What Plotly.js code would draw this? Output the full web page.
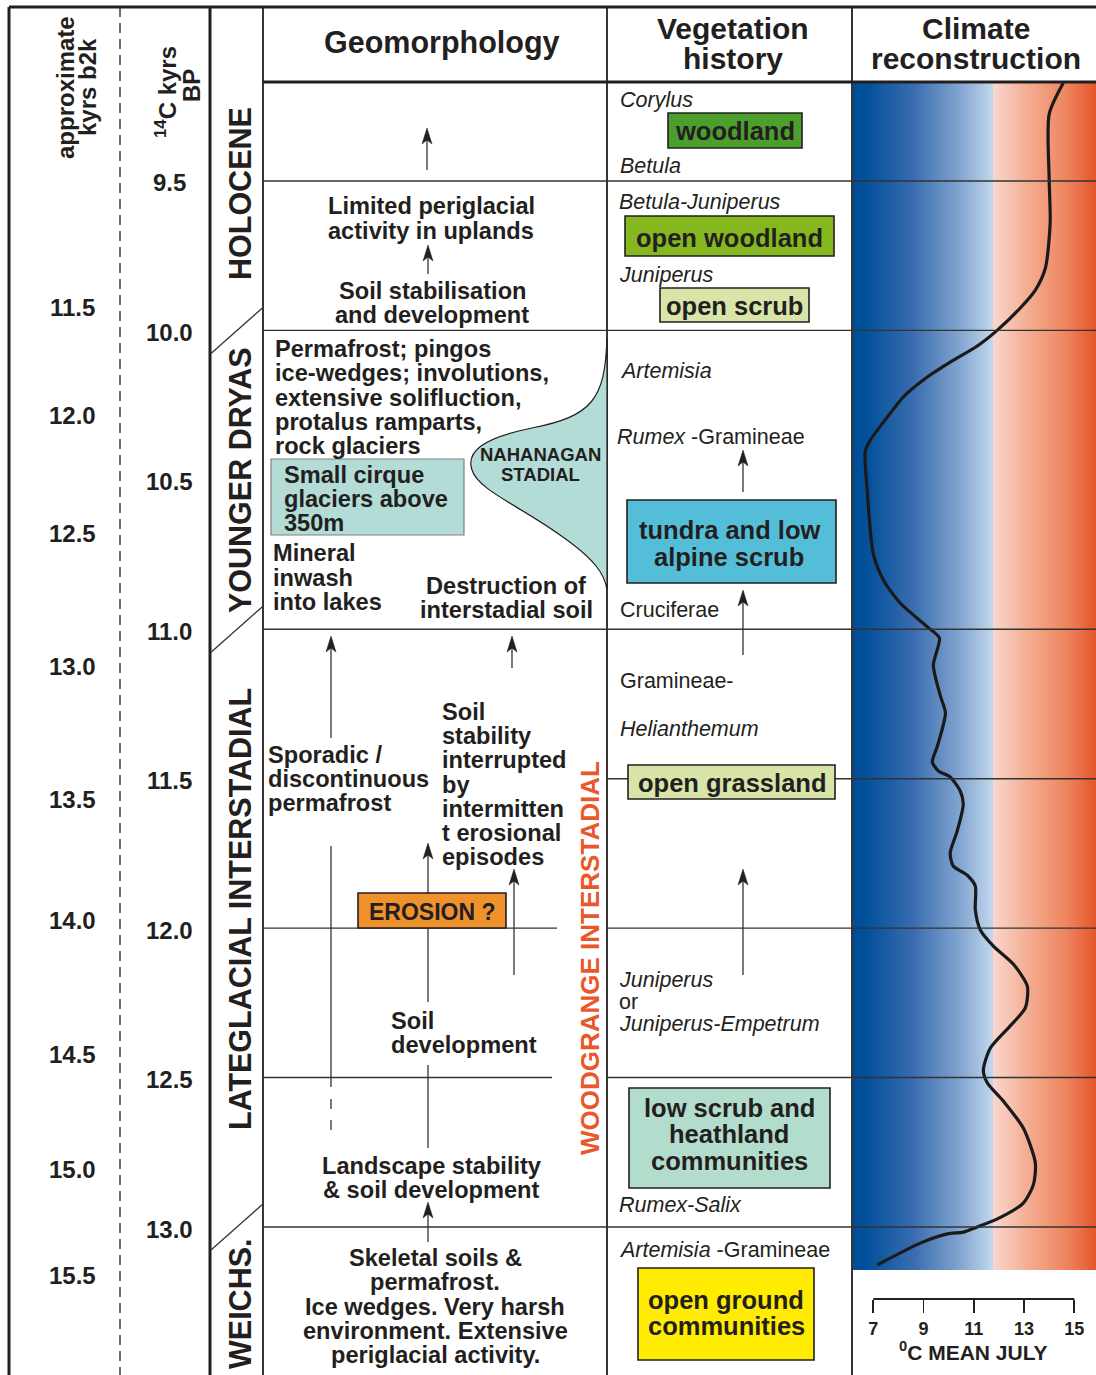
<!DOCTYPE html>
<html>
<head>
<meta charset="utf-8">
<script src="https://cdn.plot.ly/plotly-3.0.1.min.js"></script>
<style>
  html, body { margin: 0; padding: 0; background: #ffffff; }
  #chart { width: 1096px; height: 1375px; }
</style>
</head>
<body>
<div id="chart"></div>
<script>
// ---- Age scales -------------------------------------------------------
// Radiocarbon ages (14C kyrs BP) drawn down the second column
const c14Ticks  = [9.5, 10.0, 10.5, 11.0, 11.5, 12.0, 12.5, 13.0];
const c14Labels = ['9.5', '10.0', '10.5', '11.0', '11.5', '12.0', '12.5', '13.0'];

// Approximate calendar ages (kyrs b2k) and the 14C age each one falls at
const b2kLabels = ['11.5', '12.0', '12.5', '13.0', '13.5', '14.0', '14.5', '15.0', '15.5'];
const b2kAt14C  = [9.922, 10.283, 10.678, 11.126, 11.571, 11.976, 12.424, 12.806, 13.161];

// Zone boundaries (14C kyrs BP)
const zoneBounds = [9.5, 10.0, 11.0, 11.5, 12.0, 12.5, 13.0];
// Chronostratigraphic stage limits, where the diagonal breaks are drawn
const stageBreaks = [10.0, 11.0, 13.0];

// ---- Climate reconstruction: mean July temperature (deg C) ------------
const tempTicks = [7, 9, 11, 13, 15];
const curveAge = [9.172, 9.276, 9.493, 9.641, 9.791, 9.865, 9.925, 9.999, 10.052, 10.106,
                  10.156, 10.223, 10.290, 10.367, 10.404, 10.537, 10.748, 10.835, 10.912, 10.992,
                  11.029, 11.120, 11.223, 11.280, 11.391, 11.444, 11.474, 11.494, 11.541, 11.585,
                  11.675, 11.749, 11.792, 11.823, 11.859, 11.939, 12.006, 12.060, 12.120, 12.194,
                  12.267, 12.327, 12.401, 12.475, 12.518, 12.578, 12.669, 12.786, 12.859, 12.920,
                  12.973, 13.000, 13.017, 13.023, 13.054, 13.127];
const curveTemp = [14.56, 14.00, 14.00, 14.04, 13.85, 13.45, 12.85, 11.94, 11.14, 10.06,
                   9.15, 8.19, 7.56, 6.88, 6.68, 6.76, 7.00, 7.40, 8.07, 9.15,
                   9.63, 9.39, 9.67, 9.87, 9.55, 9.35, 9.59, 10.06, 10.46, 10.58,
                   10.34, 10.06, 10.18, 10.74, 11.06, 11.06, 11.26, 11.78, 12.57, 13.13,
                   13.05, 12.45, 11.66, 11.38, 11.54, 12.17, 12.97, 13.45, 13.37, 12.97,
                   11.94, 11.14, 10.58, 9.95, 8.87, 7.16];

// ---- Page geometry ----------------------------------------------------
const W = 1096, H = 1375;
const AGE_TOP = 8.8944, AGE_BOTTOM = 13.4952;          // 14C age at top / bottom edge
const T_LEFT = 6.192, T_RIGHT = 15.864;                // temperature at climate panel edges
const CLIM_X0 = 853;
const FONT = 'Liberation Sans, Arial, Helvetica, sans-serif';
const INK = '#231f20';
const HEAD = 30;     // column headings and stage names
const BODY = 23.6;   // geomorphology text
const BOX = 25.5;    // vegetation box labels
const VS = 21.5;     // pollen taxa

const agePx = a => (a - AGE_TOP) / (AGE_BOTTOM - AGE_TOP) * H;

const shapes = [];
const ann = [];

function line(x0, y0, x1, y1, w, color, dash, yref) {
  shapes.push({ type: 'line', xref: 'x', yref: yref || 'y', x0, y0, x1, y1,
    line: { color: color || INK, width: w || 1.5, dash: dash || 'solid' } });
}
function rect(x0, y0, x1, y1, fill, lc, lw) {
  shapes.push({ type: 'rect', xref: 'x', yref: 'y', x0, y0, x1, y1, fillcolor: fill,
    line: { color: lc || INK, width: lw || 1.6 } });
}
function text(t, x, y, o) {
  o = o || {};
  ann.push({ xref: 'x', yref: o.yref || 'y', x, y, text: t, showarrow: false,
    xanchor: o.anchor || 'center', yanchor: 'middle', textangle: o.angle || 0,
    yshift: o.yshift || 0, borderpad: 0,
    font: { family: FONT, size: o.size || BODY, color: o.color || INK } });
}
function arrow(x, yTail, yTip) {
  line(x, yTail, x, yTip + 10, 1.3, '#333');
  shapes.push({ type: 'path', xref: 'x', yref: 'y',
    path: `M${x},${yTip} L${x + 5},${yTip + 16} L${x},${yTip + 12} L${x - 5},${yTip + 16} Z`,
    fillcolor: INK, line: { color: INK, width: 0.5 } });
}

// ---- Frame and column rules ------------------------------------------
line(9, 7, W, 7, 3);
line(9, 7, 9, H, 3);
line(120, 7, 120, H, 1.4, '#333', '10px,6px');
line(210, 7, 210, H, 3);
line(263, 7, 263, H, 1.8);
line(607, 7, 607, H, 1.8);
line(852, 7, 852, H, 1.8);
line(263, 82, W, 82, 3);

// zone boundaries across geomorphology / vegetation / climate columns
const spans = {
  9.5: [[263, W]], 10.0: [[263, W]], 11.0: [[263, W]], 11.5: [[607, W]],
  12.0: [[263, 557], [607, W]], 12.5: [[263, 552], [607, W]], 13.0: [[263, W]]
};
zoneBounds.forEach(a => {
  spans[a].forEach(s => line(s[0], a, s[1], a, 1.4, '#333', 'solid', 'y2'));
});
// diagonal breaks between stages
stageBreaks.forEach(a => line(211, agePx(a) + 23, 263, agePx(a) - 23, 1.3, '#333'));

// ---- Column headings ---------------------------------------------------
text('<b>approximate</b>', 65, 88, { angle: -90, size: 24 });
text('<b>kyrs b2k</b>', 87, 87, { angle: -90, size: 24 });
text('<b><sup>14</sup>C kyrs</b>', 166, 92, { angle: -90, size: 24 });
text('<b>BP</b>', 191, 86, { angle: -90, size: 24 });
text('<b>Geomorphology</b>', 442, 42, { size: 30.5 });
text('<b>Vegetation</b>', 733, 28, { size: HEAD });
text('<b>history</b>', 733, 58, { size: HEAD });
text('<b>Climate</b>', 976, 28, { size: HEAD });
text('<b>reconstruction</b>', 976, 58, { size: HEAD });

// ---- Age labels -------------------------------------------------------
c14Ticks.forEach((a, i) => text('<b>' + c14Labels[i] + '</b>', 169, a, { yref: 'y2', yshift: -2, size: 24 }));
b2kAt14C.forEach((a, i) => text('<b>' + b2kLabels[i] + '</b>', 72, a, { yref: 'y2', size: 24 }));

// ---- Stages -----------------------------------------------------------
text('<b>HOLOCENE</b>', 240, 194, { angle: -90, size: 30.5 });
text('<b>YOUNGER DRYAS</b>', 240, 480, { angle: -90, size: 30.5 });
text('<b>LATEGLACIAL INTERSTADIAL</b>', 240, 909, { angle: -90, size: 30.5 });
text('<b>WEICHS.</b>', 240, 1304, { angle: -90, size: 30.5 });

// ---- Geomorphology ----------------------------------------------------
arrow(427, 170, 128);
text('<b>Limited periglacial</b>', 431, 206);
text('<b>activity in uplands</b>', 431, 231);
arrow(428, 274, 245);
text('<b>Soil stabilisation</b>', 432, 291);
text('<b>and development</b>', 432, 315);

['Permafrost; pingos', 'ice-wedges; involutions,', 'extensive solifluction,',
 'protalus ramparts,', 'rock glaciers'].forEach((t, i) =>
  text('<b>' + t + '</b>', 274, 349 + i * 24.3, { anchor: 'left' }));

rect(271, 459, 464, 535, '#b2dcd5', '#808080', 1.2);
['Small cirque', 'glaciers above', '350m'].forEach((t, i) =>
  text('<b>' + t + '</b>', 283, 475 + i * 24, { anchor: 'left' }));

// Nahanagan Stadial lobe
shapes.push({ type: 'path', xref: 'x', yref: 'y',
  path: 'M607,338 C605,400 592,416 532,428 C482,438 466,452 472,470 C478,490 520,506 560,535 C596,560 605,575 607,590 Z',
  fillcolor: '#b2dcd5', line: { color: INK, width: 1.2 } });
text('<b>NAHANAGAN</b>', 540, 454, { size: 18.5 });
text('<b>STADIAL</b>', 540, 474, { size: 18.5 });

['Mineral', 'inwash', 'into lakes'].forEach((t, i) =>
  text('<b>' + t + '</b>', 272, 553 + i * 24.5, { anchor: 'left' }));
text('<b>Destruction of</b>', 506, 586);
text('<b>interstadial soil</b>', 506, 610);

arrow(331, 738, 636);
arrow(512, 668, 636);
['Sporadic /', 'discontinuous', 'permafrost'].forEach((t, i) =>
  text('<b>' + t + '</b>', 267, 755 + i * 24, { anchor: 'left' }));
line(331, 846, 331, 1087, 1.3, '#333');
line(331, 1099, 331, 1109, 1.3, '#333');
line(331, 1120, 331, 1130, 1.3, '#333');

['Soil', 'stability', 'interrupted', 'by', 'intermitten', 't erosional', 'episodes'].forEach((t, i) =>
  text('<b>' + t + '</b>', 441, 712 + i * 24.2, { anchor: 'left' }));

arrow(428, 893, 843);
arrow(514, 975, 869);
rect(358, 893, 506, 928, '#f0922c', INK, 1.6);
text('<b>EROSION ?</b>', 432, 912, { size: 23 });
line(428, 928, 428, 1002, 1.3, '#333');
line(428, 1065, 428, 1148, 1.3, '#333');
text('<b>Soil</b>', 390, 1021, { anchor: 'left' });
text('<b>development</b>', 390, 1045, { anchor: 'left' });
text('<b>Landscape stability</b>', 431, 1166);
text('<b>&amp; soil development</b>', 431, 1190);
arrow(428, 1242, 1202);

['Skeletal soils &amp;', 'permafrost.', 'Ice wedges. Very harsh',
 'environment. Extensive', 'periglacial activity.'].forEach((t, i) =>
  text('<b>' + t + '</b>', 435, 1258 + i * 24.3));

text('<b>WOODGRANGE INTERSTADIAL</b>', 590, 958, { angle: -90, size: 26, color: '#e9572b' });

// ---- Vegetation history ----------------------------------------------
text('<i>Corylus</i>', 619, 100, { anchor: 'left', size: VS });
rect(668, 113, 802, 148, '#4c9e2d');
text('<b>woodland</b>', 735, 131, { size: BOX });
text('<i>Betula</i>', 619, 166, { anchor: 'left', size: VS });
text('<i>Betula-Juniperus</i>', 618, 202, { anchor: 'left', size: VS });
rect(625, 216, 834, 256, '#84b81e');
text('<b>open woodland</b>', 729, 238, { size: BOX });
text('<i>Juniperus</i>', 618, 275, { anchor: 'left', size: VS });
rect(660, 288, 809, 322, '#d9e5a8');
text('<b>open scrub</b>', 734, 306, { size: BOX });

text('<i>Artemisia</i>', 619, 371, { anchor: 'left', size: VS });
text('<i>Rumex</i> -Gramineae', 616, 437, { anchor: 'left', size: VS });
arrow(743, 492, 450);
rect(627, 500, 836, 583, '#54bed8');
text('<b>tundra and low</b>', 729, 530, { size: BOX });
text('<b>alpine scrub</b>', 729, 557, { size: BOX });
text('Cruciferae', 619, 610, { anchor: 'left', size: VS });
arrow(743, 655, 590);

text('Gramineae-', 619, 681, { anchor: 'left', size: VS });
text('<i>Helianthemum</i>', 619, 729, { anchor: 'left', size: VS });
rect(628, 765, 835, 799, '#d9e5a8');
text('<b>open grassland</b>', 732, 783, { size: BOX });
arrow(743, 975, 869);
text('<i>Juniperus</i>', 618, 980, { anchor: 'left', size: VS });
text('or', 618, 1002, { anchor: 'left', size: VS });
text('<i>Juniperus-Empetrum</i>', 618, 1024, { anchor: 'left', size: VS });
rect(629, 1088, 830, 1188, '#b2dccb');
text('<b>low scrub and</b>', 729, 1107.5, { size: BOX });
text('<b>heathland</b>', 729, 1134, { size: BOX });
text('<b>communities</b>', 729, 1161, { size: BOX });
text('<i>Rumex-Salix</i>', 618, 1205, { anchor: 'left', size: VS });
text('<i>Artemisia</i> -Gramineae', 618, 1250, { anchor: 'left', size: VS });
rect(638, 1268, 814, 1360, '#ffec00');
text('<b>open ground</b>', 726, 1299.5, { size: BOX });
text('<b>communities</b>', 726, 1326, { size: BOX });

// ---- Climate panel -----------------------------------------------------
const pxToT = px => T_LEFT + (px - CLIM_X0) / (W - CLIM_X0) * (T_RIGHT - T_LEFT);
const gx = [], gz = [];
for (let i = 0; i <= W - CLIM_X0; i++) gx.push(pxToT(CLIM_X0 + i));
for (let i = 0; i < W - CLIM_X0; i++) gz.push(i + 0.5);
const span = W - CLIM_X0;
const band = {
  type: 'heatmap', xaxis: 'x2', yaxis: 'y', x: gx, y: [83, 1270], z: [gz],
  zmin: 0, zmax: span, showscale: false, hoverinfo: 'skip', zsmooth: false,
  colorscale: [
    [0, '#004d97'], [0.06, '#03509b'], [0.25, '#3a6daf'], [0.45, '#86a8d2'],
    [0.576, '#c2d8ee'], [0.578, '#fad6ce'], [0.72, '#f4ad92'], [0.88, '#ee845e'], [1, '#e5552a']
  ]
};
const curve = {
  type: 'scatter', mode: 'lines', xaxis: 'x2', yaxis: 'y2', x: curveTemp, y: curveAge,
  line: { color: '#1a1a1a', width: 3.2, shape: 'spline', smoothing: 0.7 }, hoverinfo: 'skip'
};
// temperature scale bar
shapes.push({ type: 'line', xref: 'x2', yref: 'y', x0: tempTicks[0], x1: tempTicks[tempTicks.length - 1],
  y0: 1299, y1: 1299, line: { color: INK, width: 1.8 } });
text('<b><sup>0</sup>C MEAN JULY</b>', 973, 1351, { size: 21 });

const layout = {
  width: W, height: H, margin: { l: 0, r: 0, t: 0, b: 0 },
  paper_bgcolor: '#ffffff', plot_bgcolor: 'rgba(0,0,0,0)', showlegend: false,
  xaxis: { range: [0, W], visible: false, fixedrange: true },
  yaxis: { range: [H, 0], visible: false, fixedrange: true },
  xaxis2: {
    domain: [CLIM_X0 / W, 1], range: [T_LEFT, T_RIGHT], anchor: 'free', position: (H - 1299) / H,
    tickvals: tempTicks, ticktext: tempTicks.map(v => '<b>' + v + '</b>'),
    ticks: 'outside', ticklen: 13, tickwidth: 1.8, tickcolor: INK,
    showline: false, showgrid: false, zeroline: false,
    tickfont: { family: FONT, size: 18, color: INK }, fixedrange: true
  },
  yaxis2: { range: [AGE_BOTTOM, AGE_TOP], overlaying: 'y', visible: false, fixedrange: true },
  shapes: shapes,
  annotations: ann
};

Plotly.newPlot('chart', [band, curve], layout, { staticPlot: true, displayModeBar: false });
</script>
</body>
</html>
